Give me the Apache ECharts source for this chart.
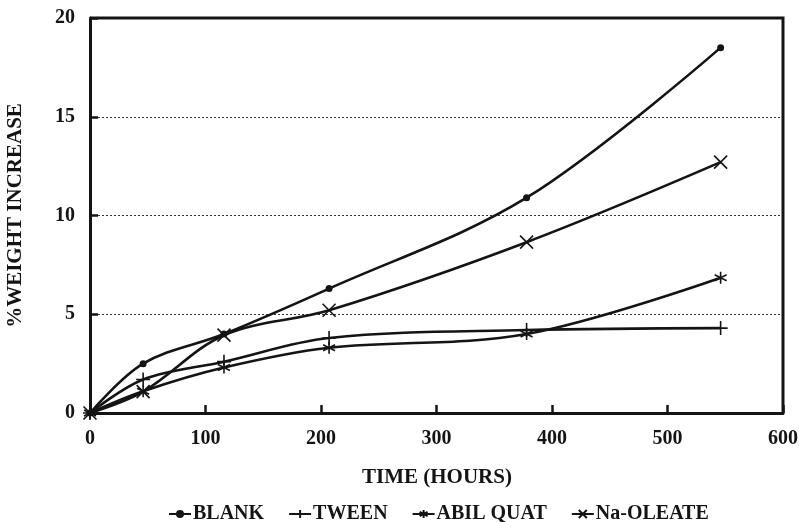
<!DOCTYPE html>
<html>
<head>
<meta charset="utf-8">
<script src="https://cdn.jsdelivr.net/npm/echarts@6/dist/echarts.min.js"></script>
<style>html,body{margin:0;padding:0;background:#fff}#c{width:799px;height:522px}</style>
</head>
<body>
<div id="c"></div>
<script>
var hours = [0, 46, 116, 207, 378, 546];
var blank = [0, 2.5, 4.0, 6.3, 10.9, 18.5];
var tween = [0, 1.7, 2.6, 3.8, 4.2, 4.3];
var abilQuat = [0, 1.1, 2.3, 3.3, 4.0, 6.85];
var naOleate = [0, 1.08, 3.94, 5.2, 8.65, 12.7];
var seriesNames = ['BLANK', 'TWEEN', 'ABIL QUAT', 'Na-OLEATE'];
var xTicks = [0, 100, 200, 300, 400, 500, 600];
var yTicks = [0, 5, 10, 15, 20];

var FONT = '"Liberation Serif", "DejaVu Serif", serif';
var INK = '#141414';

function pairs(ys) { return hours.map(function (h, i) { return [h, ys[i]]; }); }

var symPlus = 'path://M0,5 L10,5 M5,0 L5,10';
var symStar = 'path://M5,0 L5,10 M0.7,2.5 L9.3,7.5 M0.7,7.5 L9.3,2.5';
var symX = 'path://M0,0 L10,10 M10,0 L0,10';

function mk(name, ys, symbol, size, filled) {
  return {
    name: name, type: 'line', data: pairs(ys), smooth: 0.35,
    symbol: symbol, symbolSize: size, showSymbol: true,
    lineStyle: { color: INK, width: 2.6 },
    itemStyle: { color: INK, borderColor: INK, borderWidth: filled ? 0 : 1.6 },
    emphasis: { disabled: true }, z: 3
  };
}

var chart = echarts.init(document.getElementById('c'), null, { renderer: 'canvas' });
chart.setOption({
  animation: false,
  backgroundColor: '#fff',
  grid: { left: 90, right: 16, top: 18, bottom: 109, containLabel: false, outerBoundsMode: 'none' },
  title: {
    text: 'TIME (HOURS)', left: 432, top: 462, textAlign: 'center',
    textStyle: { fontFamily: FONT, fontWeight: 'bold', fontSize: 21, color: INK }
  },
  legend: {
    data: seriesNames, left: 163, top: 499, itemWidth: 22, itemHeight: 10, itemGap: 24,
    textStyle: { fontFamily: FONT, fontWeight: 'bold', fontSize: 20, color: INK, padding: [0, 0, 0, -3] }
  },
  xAxis: {
    type: 'value', min: 0, max: 600, interval: 100,
    axisLine: { lineStyle: { color: INK, width: 3 } },
    axisTick: { inside: true, length: 8, lineStyle: { color: INK, width: 2.5 } },
    axisLabel: { margin: 16, fontFamily: FONT, fontWeight: 'bold', fontSize: 20, color: INK,
      formatter: function (v) { return xTicks.indexOf(v) >= 0 ? String(v) : ''; } },
    splitLine: { show: false }
  },
  yAxis: {
    type: 'value', min: 0, max: 20, interval: 5,
    name: '%WEIGHT INCREASE', nameLocation: 'middle', nameGap: 64, nameRotate: 90,
    nameTextStyle: { fontFamily: FONT, fontWeight: 'bold', fontSize: 21, color: INK },
    axisLine: { lineStyle: { color: INK, width: 3 } },
    axisTick: { inside: true, length: 8, lineStyle: { color: INK, width: 2.5 } },
    axisLabel: { margin: 15, fontFamily: FONT, fontWeight: 'bold', fontSize: 20, color: INK,
      formatter: function (v) { return yTicks.indexOf(v) >= 0 ? String(v) : ''; } },
    splitLine: { show: true, lineStyle: { color: '#333', width: 1, type: [2, 2] } }
  },
  graphic: [],
  series: [
    mk('BLANK', blank, 'circle', 7, true),
    mk('TWEEN', tween, symPlus, 14, false),
    mk('ABIL QUAT', abilQuat, symStar, 12, false),
    mk('Na-OLEATE', naOleate, symX, 13, false)
  ]
});

var p0 = chart.convertToPixel({ gridIndex: 0 }, [0, 20]);
var p1 = chart.convertToPixel({ gridIndex: 0 }, [600, 0]);
chart.setOption({
  graphic: [
    { type: 'polyline', shape: { points: [[p0[0], p0[1]], [p1[0], p0[1]], [p1[0], p1[1]]] },
      style: { stroke: INK, lineWidth: 3, fill: null }, z: 10 }
  ]
});
</script>
</body>
</html>
